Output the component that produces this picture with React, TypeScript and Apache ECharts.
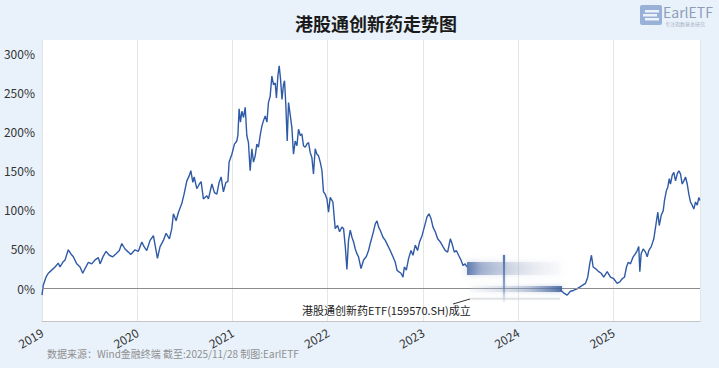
import React, { useEffect, useRef } from "react";
import * as echarts from "echarts";

// Time as decimal years, return in %
const years: number[] = [
  2019.0, 2019.014, 2019.042, 2019.066, 2019.102, 2019.137, 2019.171, 2019.189, 2019.218, 2019.242,
  2019.276, 2019.302, 2019.329, 2019.365, 2019.399, 2019.428, 2019.452, 2019.487, 2019.522, 2019.557,
  2019.592, 2019.61, 2019.644, 2019.673, 2019.707, 2019.743, 2019.778, 2019.812, 2019.838, 2019.872,
  2019.907, 2019.932, 2019.977, 2020.012, 2020.048, 2020.072, 2020.1, 2020.135, 2020.17, 2020.198,
  2020.212, 2020.24, 2020.275, 2020.303, 2020.338, 2020.363, 2020.38, 2020.408, 2020.433, 2020.468,
  2020.492, 2020.521, 2020.548, 2020.563, 2020.584, 2020.598, 2020.626, 2020.653, 2020.671, 2020.695,
  2020.731, 2020.748, 2020.784, 2020.811, 2020.836, 2020.86, 2020.881, 2020.905, 2020.931, 2020.952,
  2020.965, 2020.994, 2021.021, 2021.046, 2021.057, 2021.07, 2021.084, 2021.099, 2021.116, 2021.134,
  2021.151, 2021.168, 2021.186, 2021.204, 2021.221, 2021.239, 2021.256, 2021.273, 2021.291, 2021.309,
  2021.326, 2021.344, 2021.362, 2021.378, 2021.396, 2021.414, 2021.431, 2021.449, 2021.462, 2021.477,
  2021.491, 2021.505, 2021.52, 2021.536, 2021.547, 2021.561, 2021.575, 2021.589, 2021.606, 2021.624,
  2021.641, 2021.659, 2021.677, 2021.694, 2021.712, 2021.729, 2021.746, 2021.764, 2021.782, 2021.799,
  2021.817, 2021.834, 2021.851, 2021.869, 2021.887, 2021.904, 2021.922, 2021.94, 2021.956, 2021.974,
  2021.992, 2022.009, 2022.027, 2022.055, 2022.079, 2022.104, 2022.125, 2022.15, 2022.167, 2022.185,
  2022.202, 2022.219, 2022.237, 2022.255, 2022.272, 2022.29, 2022.307, 2022.324, 2022.35, 2022.377,
  2022.405, 2022.429, 2022.447, 2022.476, 2022.5, 2022.518, 2022.535, 2022.552, 2022.581, 2022.605,
  2022.629, 2022.657, 2022.686, 2022.71, 2022.728, 2022.745, 2022.77, 2022.791, 2022.805, 2022.826,
  2022.85, 2022.875, 2022.896, 2022.92, 2022.944, 2022.965, 2022.991, 2023.015, 2023.043, 2023.064,
  2023.085, 2023.106, 2023.13, 2023.155, 2023.183, 2023.211, 2023.236, 2023.26, 2023.288, 2023.306,
  2023.33, 2023.351, 2023.375, 2023.4, 2023.421, 2023.444, 2023.462,
  2023.95,
  2024.444, 2024.476, 2024.515, 2024.549, 2024.581, 2024.618, 2024.654, 2024.707, 2024.731, 2024.752,
  2024.77, 2024.788, 2024.812, 2024.847, 2024.872, 2024.899, 2024.935, 2024.97, 2025.004, 2025.04,
  2025.068, 2025.093, 2025.117, 2025.138, 2025.156, 2025.18, 2025.208, 2025.233, 2025.25, 2025.267,
  2025.278, 2025.292, 2025.313, 2025.338, 2025.356, 2025.372, 2025.398, 2025.425, 2025.453, 2025.467,
  2025.482, 2025.503, 2025.524, 2025.537, 2025.558, 2025.572, 2025.587, 2025.6, 2025.618, 2025.635,
  2025.653, 2025.671, 2025.688, 2025.705, 2025.723, 2025.74, 2025.758, 2025.776, 2025.793, 2025.81,
  2025.828, 2025.845, 2025.863, 2025.881, 2025.898, 2025.908,
];

const returns: (number | null)[] = [
  -9, 4, 14, 19, 23, 27, 32, 27, 33, 36,
  49, 44, 40, 31, 27, 19, 25, 33, 31, 36,
  39, 31, 41, 47, 42, 40, 44, 48, 57, 50,
  46, 43, 49, 47, 59, 53, 48, 61, 67, 48,
  38, 53, 61, 70, 63, 76, 95, 86, 97, 108,
  120, 137, 144, 150, 135, 142, 127, 133, 136, 114,
  118, 114, 133, 122, 120, 135, 142, 123, 135, 136,
  161, 171, 184, 188, 195, 229, 212, 226, 218, 231,
  195, 186, 150, 178, 161, 169, 184, 180, 195, 207,
  214, 220, 212, 237, 245, 271, 260, 262, 243, 271,
  284, 267, 241, 260, 265, 233, 188, 237, 222, 205,
  171, 188, 182, 203, 195, 197, 182, 180, 184, 186,
  173, 167, 146, 178, 171, 169, 161, 150, 123, 120,
  114, 97, 116, 110, 76, 80, 72, 78, 76, 53,
  24, 61, 74, 65, 59, 50, 44, 40, 25, 36,
  40, 48, 57, 70, 82, 86, 78, 74, 65, 61,
  55, 48, 40, 33, 23, 21, 19, 14, 27, 23,
  38, 48, 42, 55, 48, 59, 67, 78, 91, 95,
  89, 78, 72, 63, 59, 53, 48, 46, 63, 57,
  46, 48, 42, 36, 29, 31, 27,
  null,
  -2, -6, -9, -4, -3, -1, 2, 6, 14, 31,
  42, 27, 25, 21, 19, 14, 21, 14, 12, 6,
  8, 12, 14, 27, 33, 31, 40, 44, 48, 53,
  21, 44, 50, 46, 40, 48, 53, 63, 86, 97,
  80, 93, 99, 112, 125, 129, 140, 133, 144, 148,
  137, 146, 150, 146, 133, 137, 142, 133, 120, 110,
  106, 101, 110, 106, 116, 112,
];

const yTickValues: number[] = [0, 50, 100, 150, 200, 250, 300];
const titleText = "港股通创新药走势图";
const sourceText = "数据来源：Wind金融终端 截至:2025/11/28 制图:EarlETF";
const noteText = "港股通创新药ETF(159570.SH)成立";
const logoText = "EarlETF";
const logoSubText = "专注指数基金研究";

const FONT = "'Noto Sans CJK SC', 'Noto Sans', sans-serif";

export default function App() {
  const ref = useRef<HTMLDivElement>(null);
  useEffect(() => {
    if (!ref.current) return;
    const chart = echarts.init(ref.current, null, { renderer: "svg" });
    const data = years.map((t, i) => [t, returns[i] === null ? "-" : returns[i]]);
    chart.setOption({
      animation: false,
      backgroundColor: "#e9f2fb",
      textStyle: { fontFamily: FONT },
      title: {
        text: titleText,
        left: 290,
        top: 9,
        textStyle: { fontSize: 18, fontWeight: "bold", color: "#1a1a1a", fontFamily: FONT },
      },
      grid: {
        left: 42, right: 19, top: 40, bottom: 47,
        show: true, backgroundColor: "#ffffff", borderWidth: 0,
      },
      xAxis: {
        type: "value",
        min: 2019,
        max: 2025.91,
        interval: 1,
        axisLine: { show: true, onZero: false, lineStyle: { color: "#c4c4c4" } },
        axisTick: { show: false },
        axisLabel: {
          rotate: 30,
          margin: 10,
          fontSize: 12,
          color: "#333",
          fontFamily: FONT,
          showMaxLabel: false,
          formatter: (v: number) => (Math.abs(v - Math.round(v)) < 1e-6 ? String(Math.round(v)) : ""),
        },
        splitLine: { show: true, lineStyle: { color: "#e6e6e6", width: 1 } },
      },
      yAxis: {
        type: "value",
        min: -42,
        max: 317,
        axisLine: { show: false },
        axisTick: { show: false },
        splitLine: { show: false },
        axisLabel: {
          customValues: yTickValues,
          margin: 7,
          fontSize: 12,
          color: "#333",
          fontFamily: FONT,
          formatter: (v: number) => v + "%",
        },
      },
      series: [
        {
          type: "line",
          data,
          showSymbol: false,
          connectNulls: false,
          lineStyle: { color: "#2f5aa6", width: 1.4 },
          itemStyle: { color: "#2f5aa6" },
          markLine: {
            silent: true,
            symbol: "none",
            label: { show: false },
            lineStyle: { color: "#8c8c8c", width: 1, type: "solid" },
            data: [{ yAxis: 0 }],
          },
        },
      ],
      graphic: [
        // blurred overlay band (upper)
        {
          type: "rect",
          shape: { x: 467, y: 262, width: 94, height: 13 },
          style: {
            fill: new echarts.graphic.LinearGradient(0, 0, 1, 0, [
              { offset: 0, color: "rgba(60,95,160,0.8)" },
              { offset: 0.15, color: "rgba(95,122,175,0.5)" },
              { offset: 0.55, color: "rgba(170,180,202,0.3)" },
              { offset: 1, color: "rgba(235,236,240,0.1)" },
            ]),
            shadowBlur: 6,
            shadowColor: "rgba(120,140,185,0.5)",
          },
          z: 100,
        },
        // blurred overlay band (lower)
        {
          type: "rect",
          shape: { x: 471, y: 286, width: 91, height: 6 },
          style: {
            fill: new echarts.graphic.LinearGradient(0, 0, 1, 0, [
              { offset: 0, color: "rgba(225,228,236,0.15)" },
              { offset: 0.6, color: "rgba(130,150,190,0.4)" },
              { offset: 1, color: "rgba(55,90,152,0.85)" },
            ]),
            shadowBlur: 5,
            shadowColor: "rgba(110,135,180,0.5)",
          },
          z: 100,
        },
        {
          type: "rect",
          shape: { x: 470, y: 298, width: 90, height: 1.5 },
          style: { fill: "rgba(205,208,214,0.6)", shadowBlur: 3, shadowColor: "rgba(200,205,212,0.6)" },
          z: 100,
        },
        {
          type: "rect",
          shape: { x: 503, y: 255, width: 2, height: 47 },
          style: {
            fill: new echarts.graphic.LinearGradient(0, 0, 0, 1, [
              { offset: 0, color: "rgba(70,105,165,0.9)" },
              { offset: 0.7, color: "rgba(95,125,178,0.6)" },
              { offset: 1, color: "rgba(180,195,220,0.15)" },
            ]),
            shadowBlur: 2,
            shadowColor: "rgba(100,130,180,0.5)",
          },
          z: 100,
        },
        // annotation
        {
          type: "line",
          shape: { x1: 453, y1: 304, x2: 470, y2: 299 },
          style: { stroke: "#333", lineWidth: 1 },
          z: 100,
        },
        {
          type: "text",
          x: 302,
          y: 304,
          style: { text: noteText, fontSize: 11, fill: "#222", fontFamily: FONT },
          z: 100,
        },
        // footer
        {
          type: "text",
          x: 47,
          y: 348,
          style: { text: sourceText, fontSize: 10, fill: "#8f8f8f", fontFamily: FONT },
        },
        // logo
        {
          type: "group",
          x: 640,
          y: 5,
          children: [
            { type: "rect", shape: { x: 0, y: 0, width: 22, height: 20, r: 2 }, style: { fill: "#8eaad4", opacity: 0.9 } },
            { type: "rect", shape: { x: 5, y: 5, width: 14, height: 2.5 }, style: { fill: "#eef3fb" } },
            { type: "rect", shape: { x: 3, y: 9, width: 14, height: 2.5 }, style: { fill: "#eef3fb" } },
            { type: "rect", shape: { x: 5, y: 13, width: 14, height: 2.5 }, style: { fill: "#eef3fb" } },
            {
              type: "text",
              x: 23,
              y: -1,
              style: { text: logoText, fontSize: 14, lineHeight: 15, fill: "#8d9db8", fontFamily: FONT },
            },
            {
              type: "text",
              x: 25,
              y: 16,
              style: { text: logoSubText, fontSize: 5, lineHeight: 5, fill: "#a5b0c2", fontFamily: FONT },
            },
          ],
        },
      ],
    });
    return () => chart.dispose();
  }, []);
  return <div ref={ref} style={{ width: 719, height: 368, position: "absolute", left: 0, top: 0 }} />;
}
